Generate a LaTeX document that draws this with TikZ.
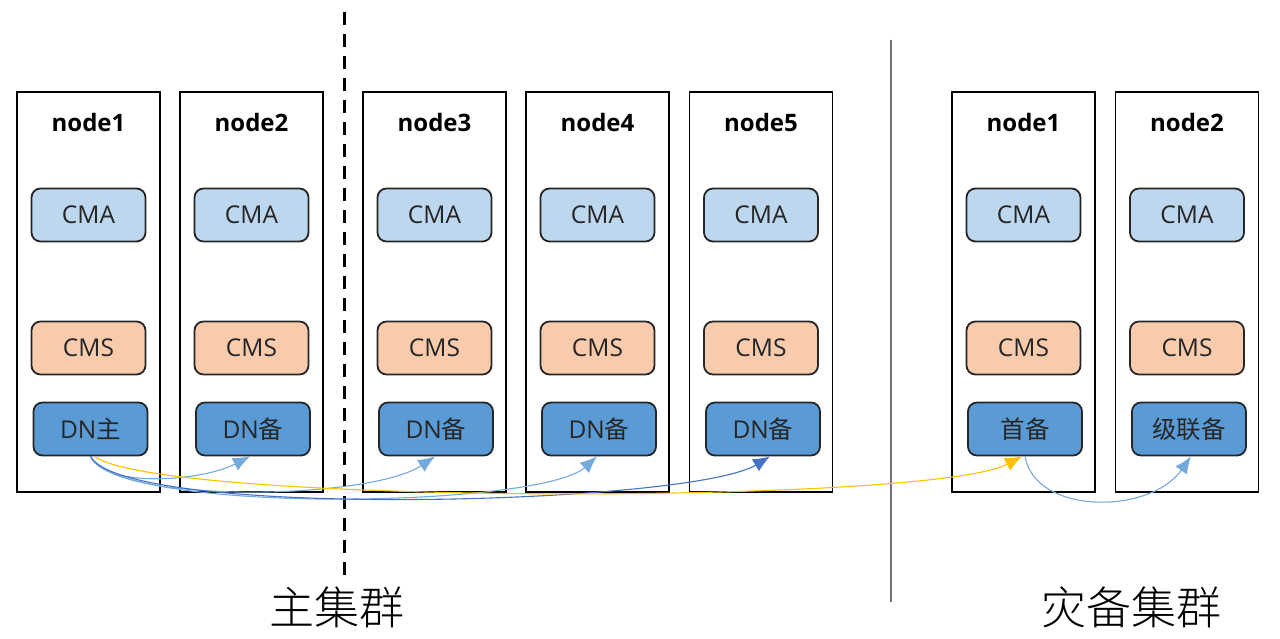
\documentclass[tikz,border=0pt]{standalone}
\usepackage{fontspec}
\setmainfont{Open Sans}
\newfontfamily\cjk{Noto Sans CJK SC}
\newfontfamily\cjklight{Noto Sans CJK SC Light}
\usetikzlibrary{arrows.meta}
\definecolor{cmafill}{HTML}{BDD7EE}
\definecolor{cmsfill}{HTML}{F8CBAD}
\definecolor{dnfill}{HTML}{5B9BD5}
\definecolor{lblue}{HTML}{5B9BD5}
\definecolor{dblue}{HTML}{4472C4}
\definecolor{ayellow}{HTML}{FFC000}
\begin{document}
\begin{tikzpicture}[x=1pt,y=-1pt,
  hostbox/.style={draw=black,line width=1.6pt,minimum width=143pt,minimum height=400pt,inner sep=0pt},
  inbox/.style={draw=black!85,line width=1.8pt,rounded corners=9pt,minimum width=114pt,minimum height=53pt,inner sep=0pt,text=black!85,font=\fontsize{24.5}{27}\selectfont},
  cmabox/.style={inbox,fill=cmafill},
  cmsbox/.style={inbox,fill=cmsfill},
  dnbox/.style={inbox,fill=dnfill},
  hostlabel/.style={font=\fontsize{24}{27}\selectfont\bfseries},
  conn/.style={line width=1.1pt,-{Latex[length=17pt,width=14pt]}},
  bigtext/.style={font=\cjklight\fontsize{45}{48}\selectfont}
]
\useasboundingbox (0,0) rectangle (1280,639);
% host boxes
\foreach \n/\x/\t in {h1/88.5/node1,h2/251.5/node2,h3/434.5/node3,h4/597.5/node4,h5/761/node5,d1/1023.5/node1,d2/1187/node2}{
  \node[hostbox] (\n) at (\x,292) {};
  \node[hostlabel] (\n lab) at (\x,123) {\t};
  \node[cmabox] (\n cma) at (\x,215) {CMA};
  \node[cmsbox] (\n cms) at (\x,348) {CMS};
}
\node[dnbox] (h1dn) at (90.5,429) {DN{\cjk 主}};
\node[dnbox] (h2dn) at (253,429) {DN{\cjk 备}};
\node[dnbox] (h3dn) at (436,429) {DN{\cjk 备}};
\node[dnbox] (h4dn) at (599,429) {DN{\cjk 备}};
\node[dnbox] (h5dn) at (763,429) {DN{\cjk 备}};
\node[dnbox] (d1dn) at (1025,429) {\cjk 首备};
\node[dnbox] (d2dn) at (1189,429) {\cjk 级联备};
% separators
\coordinate (dashtop) at (344,12);
\coordinate (dashbot) at (344,582);
\draw[line width=3pt,dash pattern=on 13pt off 9pt] (dashtop) -- (dashbot);
\coordinate (soltop) at (891,40);
\coordinate (solbot) at (891,602);
\draw[line width=1.3pt,black!55] (soltop) -- (solbot);
% labels
\node[bigtext] (mainlab) at (337,607) {主集群};
\node[bigtext] (drlab) at (1131,607) {灾备集群};
% connectors
\draw[conn,lblue!85] (h1dn.south) .. controls (105,488) and (200,482) .. ([xshift=-3pt]h2dn.south);
\draw[conn,lblue!85] (h1dn.south) .. controls (115,505) and (370,500) .. ([xshift=-1pt]h3dn.south);
\draw[conn,lblue!85] (h1dn.south) .. controls (120,515) and (540,508) .. ([xshift=-2pt]h4dn.south);
\draw[conn,dblue] (h1dn.south) .. controls (125,520) and (690,505) .. ([xshift=7pt]h5dn.south);
\draw[conn,ayellow] ([xshift=4pt]h1dn.south) .. controls (160,505) and (930,505) .. ([xshift=-3pt]d1dn.south);
\draw[conn,lblue!85] (d1dn.south) .. controls (1035,515) and (1150,515) .. ([xshift=2pt]d2dn.south);
\end{tikzpicture}
\end{document}
